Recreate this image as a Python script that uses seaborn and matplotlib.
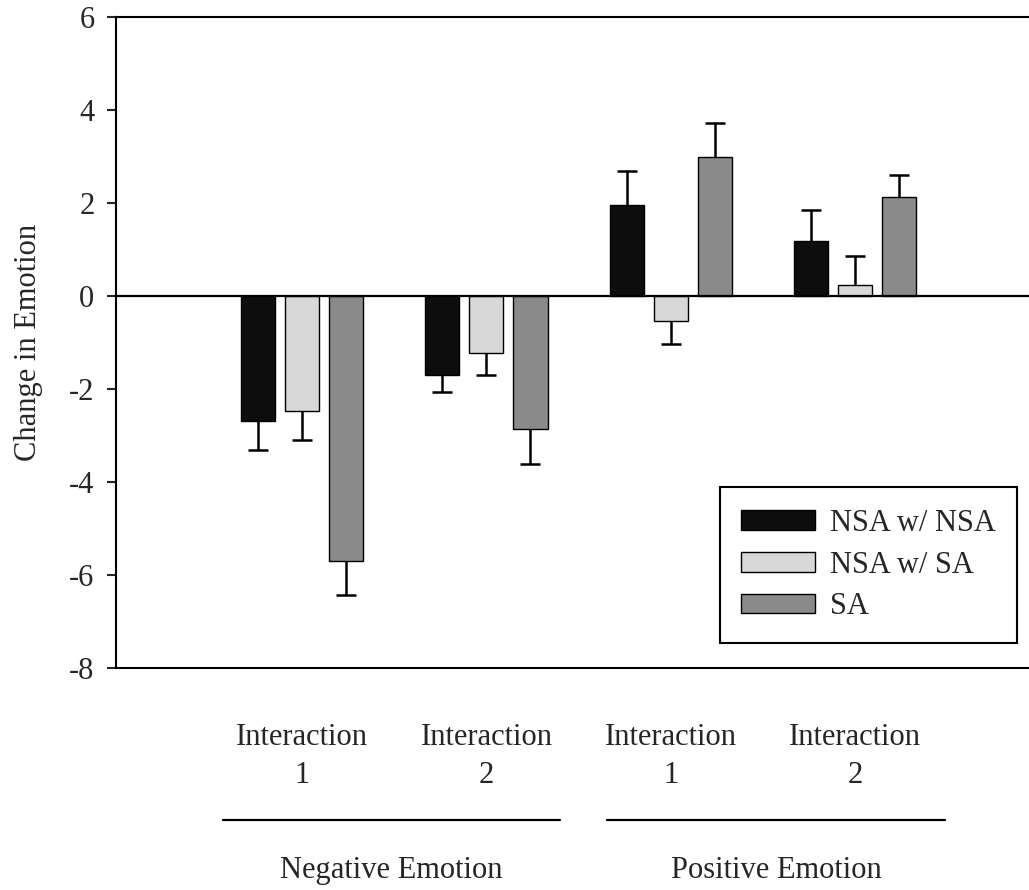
import numpy as np
import pandas as pd
import matplotlib
matplotlib.use("Agg")
import matplotlib.pyplot as plt
import matplotlib.transforms as mtransforms
from matplotlib.patches import Patch
import seaborn as sns

# ================= data =================
CONDITIONS = ["neg_1", "neg_2", "pos_1", "pos_2"]
TICK_LABELS = ["Interaction\n1", "Interaction\n2", "Interaction\n1", "Interaction\n2"]
PANEL_LABELS = ["Negative Emotion", "Positive Emotion"]
SERIES = ["NSA w/ NSA", "NSA w/ SA", "SA"]

NSA_NSA = [-2.68, -1.69, 1.96, 1.19]
NSA_SA = [-2.46, -1.22, -0.53, 0.25]
SA = [-5.70, -2.85, 3.00, 2.13]

ERR_NSA_NSA = [0.63, 0.37, 0.73, 0.66]
ERR_NSA_SA = [0.63, 0.47, 0.50, 0.62]
ERR_SA = [0.72, 0.75, 0.72, 0.47]

Y_TICKS = [-8, -6, -4, -2, 0, 2, 4, 6]

# ================= style =================
sns.set_theme(style="white")
plt.rcParams['font.family'] = ['Liberation Serif', 'DejaVu Serif']
plt.rcParams['axes.edgecolor'] = 'black'
plt.rcParams['axes.linewidth'] = 1.5

PALETTE = {"NSA w/ NSA": "#0d0d0d", "NSA w/ SA": "#d8d8d8", "SA": "#8a8a8a"}
FS = 22

values = {"NSA w/ NSA": NSA_NSA, "NSA w/ SA": NSA_SA, "SA": SA}
errors = {"NSA w/ NSA": ERR_NSA_NSA, "NSA w/ SA": ERR_NSA_SA, "SA": ERR_SA}

rows = []
for s in SERIES:
    for c, v in zip(CONDITIONS, values[s]):
        rows.append({"Condition": c, "Group": s, "Change": v})
df = pd.DataFrame(rows)

fig = plt.figure(figsize=(10.29, 8.9), dpi=100)
ax = fig.add_axes([116 / 1029, 0.249, 913 / 1029, 0.7315])

sns.barplot(
    data=df, x="Condition", y="Change", hue="Group",
    order=CONDITIONS, hue_order=SERIES, palette=PALETTE,
    width=0.717, gap=0.226, errorbar=None, legend=False,
    edgecolor="black", linewidth=1.0, ax=ax
)

# one-sided error bars (away from zero), cap only at the outer end
for s, cont in zip(SERIES, ax.containers):
    xs = np.array([p.get_x() + p.get_width() / 2 for p in cont])
    vals = np.array(values[s])
    errs = np.array(errors[s])
    ends = vals + np.sign(vals) * errs
    ax.vlines(xs, vals, ends, color='black', linewidth=1.8, zorder=3)
    ax.plot(xs, ends, linestyle='none', marker='_', markersize=14,
            markeredgewidth=1.8, color='black', zorder=3)

ax.axhline(0, color='black', linewidth=1.6, zorder=4)

ax.set_ylim(-8, 6)
ax.set_xlim(-1.01, 3.944)
ax.set_yticks(Y_TICKS)
ax.set_yticklabels([str(t) for t in Y_TICKS], fontsize=FS)
ax.set_xticks(range(len(CONDITIONS)))
ax.set_xticklabels(TICK_LABELS, fontsize=FS, linespacing=1.45)
ax.tick_params(axis='x', length=0, pad=39)
ax.tick_params(axis='y', direction='out', length=6.5, width=1.5, pad=9, left=True)
ax.set_xlabel("")
ax.set_ylabel("Change in Emotion", fontsize=FS)
ax.yaxis.set_label_coords(-0.08, 0.5)

ax.spines['right'].set_visible(False)

# group underline + panel labels
trans = mtransforms.blended_transform_factory(ax.transData, ax.transAxes)
for (x0, x1), lab in zip([(-0.43, 1.40), (1.655, 3.49)], PANEL_LABELS):
    ax.plot([x0, x1], [-0.233, -0.233], color='black', linewidth=1.6,
            transform=trans, clip_on=False)
    ax.text((x0 + x1) / 2, -0.31, lab, transform=trans, ha='center',
            va='center', fontsize=FS)

handles = [Patch(facecolor=PALETTE[s], edgecolor='black', linewidth=1.0, label=s)
           for s in SERIES]
leg = ax.legend(handles=handles, loc='upper right', bbox_to_anchor=(0.987, 0.278),
                borderaxespad=0, fontsize=FS, frameon=True, fancybox=False,
                framealpha=1, edgecolor='black', handlelength=2.4,
                handleheight=0.6, handletextpad=0.5, labelspacing=0.42,
                borderpad=0.7)
leg.get_frame().set_linewidth(1.5)

fig.savefig("out.png", dpi=100)
